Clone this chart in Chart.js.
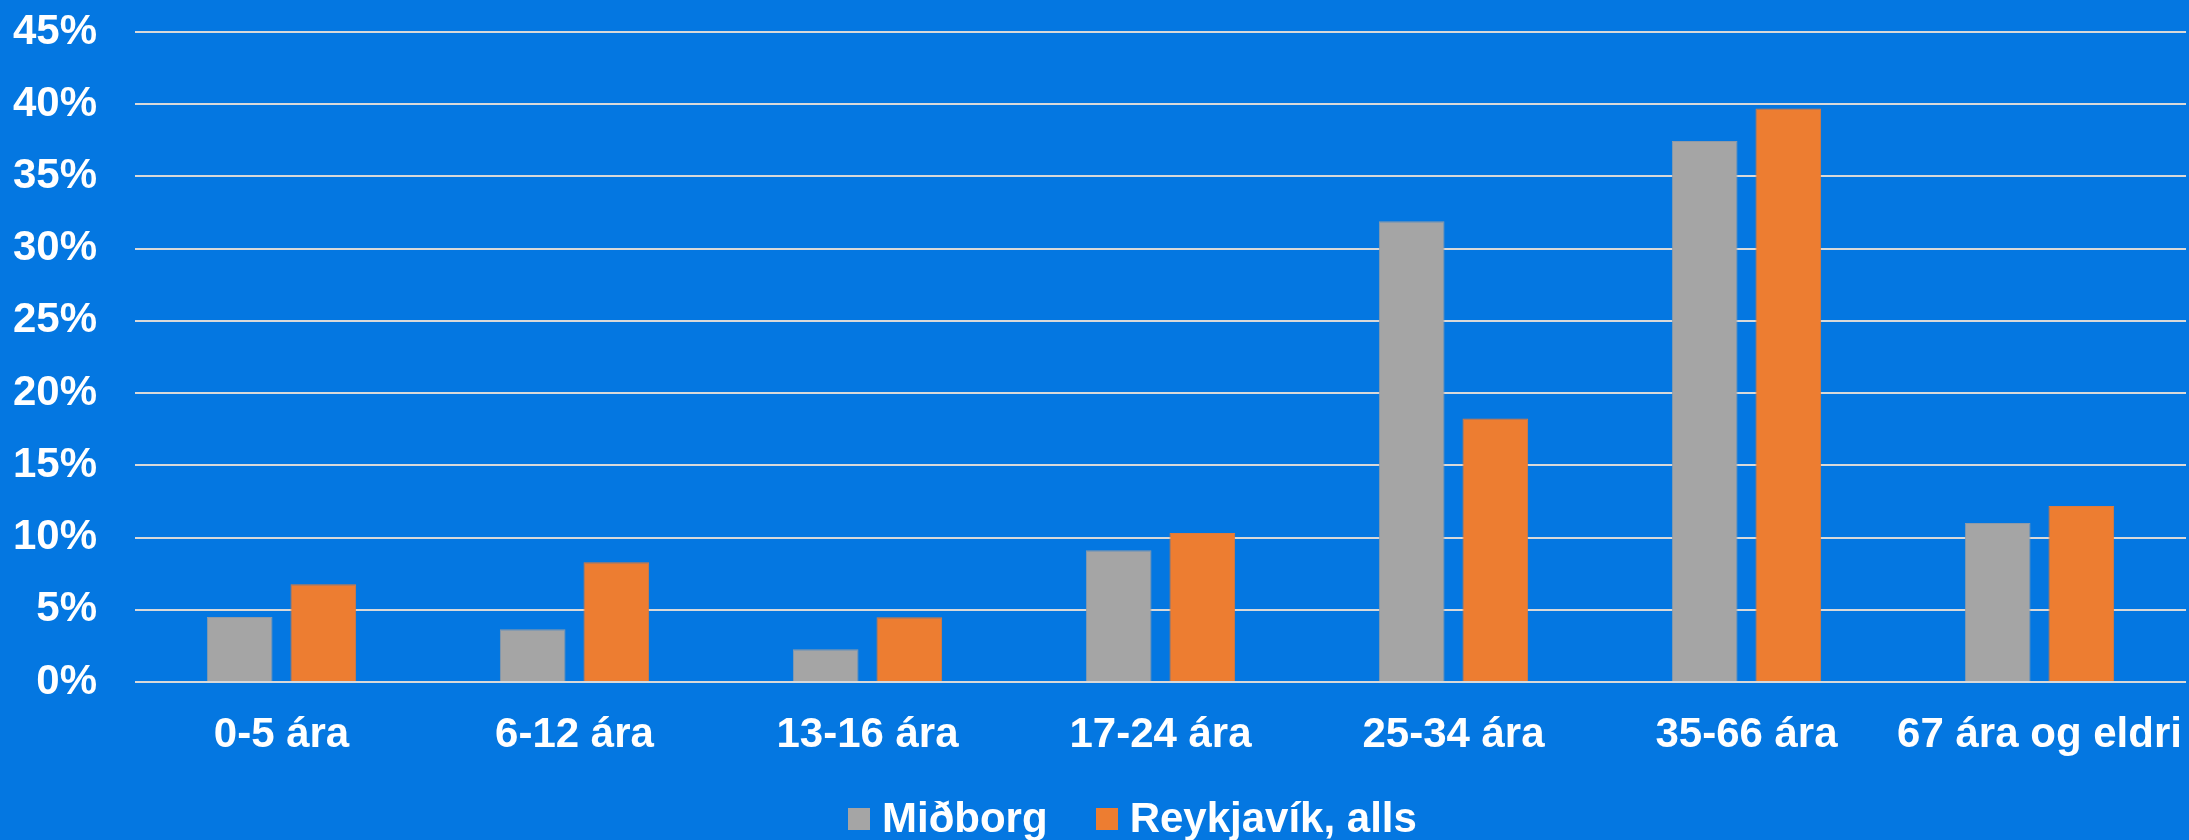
<!DOCTYPE html>
<html>
<head>
<meta charset="utf-8">
<script src="https://cdn.jsdelivr.net/npm/chart.js@4/dist/chart.umd.min.js"></script>
<style>
  html, body { margin: 0; padding: 0; background: #0477E1; }
  #wrap { width: 2189px; height: 840px; position: relative; overflow: hidden; }
  canvas { display: block; }
  #legend { position: absolute; left: 848px; top: 797px; display: flex; align-items: flex-start;
    font-family: 'Liberation Sans', Arial, Helvetica, sans-serif; font-weight: bold; font-size: 42px;
    line-height: 42px; color: #FFFFFF; white-space: nowrap; }
  #legend .item { display: flex; align-items: flex-start; }
  #legend .sw { width: 22px; height: 22px; margin-top: 11px; margin-right: 12px; }
  #legend .item + .item { margin-left: 48px; }
</style>
</head>
<body>
<div id="wrap"><canvas id="c" width="2189" height="840"></canvas><div id="legend"></div></div>
<script>
const categories = ['0-5 ára', '6-12 ára', '13-16 ára', '17-24 ára', '25-34 ára', '35-66 ára', '67 ára og eldri'];
const midborg = [4.5, 3.66, 2.27, 9.12, 31.9, 37.45, 11.0];
const reykjavik = [6.77, 8.29, 4.48, 10.32, 18.25, 39.7, 12.18];
const seriesNames = ['Miðborg', 'Reykjavík, alls'];
const seriesColors = ['#A5A5A5', '#ED7D31'];
const yTicks = [0, 5, 10, 15, 20, 25, 30, 35, 40, 45];

const FONT = "'Liberation Sans', Arial, Helvetica, sans-serif";

const chart = new Chart(document.getElementById('c'), {
  type: 'bar',
  data: {
    labels: categories,
    datasets: [
      { label: seriesNames[0], data: midborg, backgroundColor: seriesColors[0], borderColor: '#8E9AA8', borderWidth: 1,
        categoryPercentage: 0.571, barPercentage: 0.785 },
      { label: seriesNames[1], data: reykjavik, backgroundColor: seriesColors[1], borderColor: '#E07A3A', borderWidth: 1,
        categoryPercentage: 0.571, barPercentage: 0.785 }
    ]
  },
  options: {
    responsive: false,
    animation: false,
    layout: { padding: { left: 0, right: 3, top: 32, bottom: 51.6 } },
    scales: {
      x: {
        grid: { display: false, drawTicks: false },
        border: { display: false },
        ticks: { color: '#FFFFFF', font: { family: FONT, size: 42, weight: 'bold' }, padding: 28, maxRotation: 0, autoSkip: false },
        afterFit: (s) => { s.paddingLeft = 0; s.paddingRight = 0; }
      },
      y: {
        min: 0, max: 45,
        afterBuildTicks: (axis) => { axis.ticks = yTicks.map(v => ({ value: v })); },
        grid: { color: '#D9D9D9', lineWidth: 2, drawTicks: false },
        border: { display: false },
        ticks: { color: '#FFFFFF', font: { family: FONT, size: 42, weight: 'bold' }, padding: 38,
          callback: (v) => v + '%' },
        afterFit: (s) => { s.width = 135; s.paddingTop = 0; s.paddingBottom = 0; }
      }
    },
    plugins: {
      legend: { display: false },
      tooltip: { enabled: false }
    }
  }
});

const legendEl = document.getElementById('legend');
chart.data.datasets.forEach((ds) => {
  const item = document.createElement('div');
  item.className = 'item';
  const sw = document.createElement('div');
  sw.className = 'sw';
  sw.style.background = ds.backgroundColor;
  const tx = document.createElement('span');
  tx.textContent = ds.label;
  item.appendChild(sw);
  item.appendChild(tx);
  legendEl.appendChild(item);
});
</script>
</body>
</html>
